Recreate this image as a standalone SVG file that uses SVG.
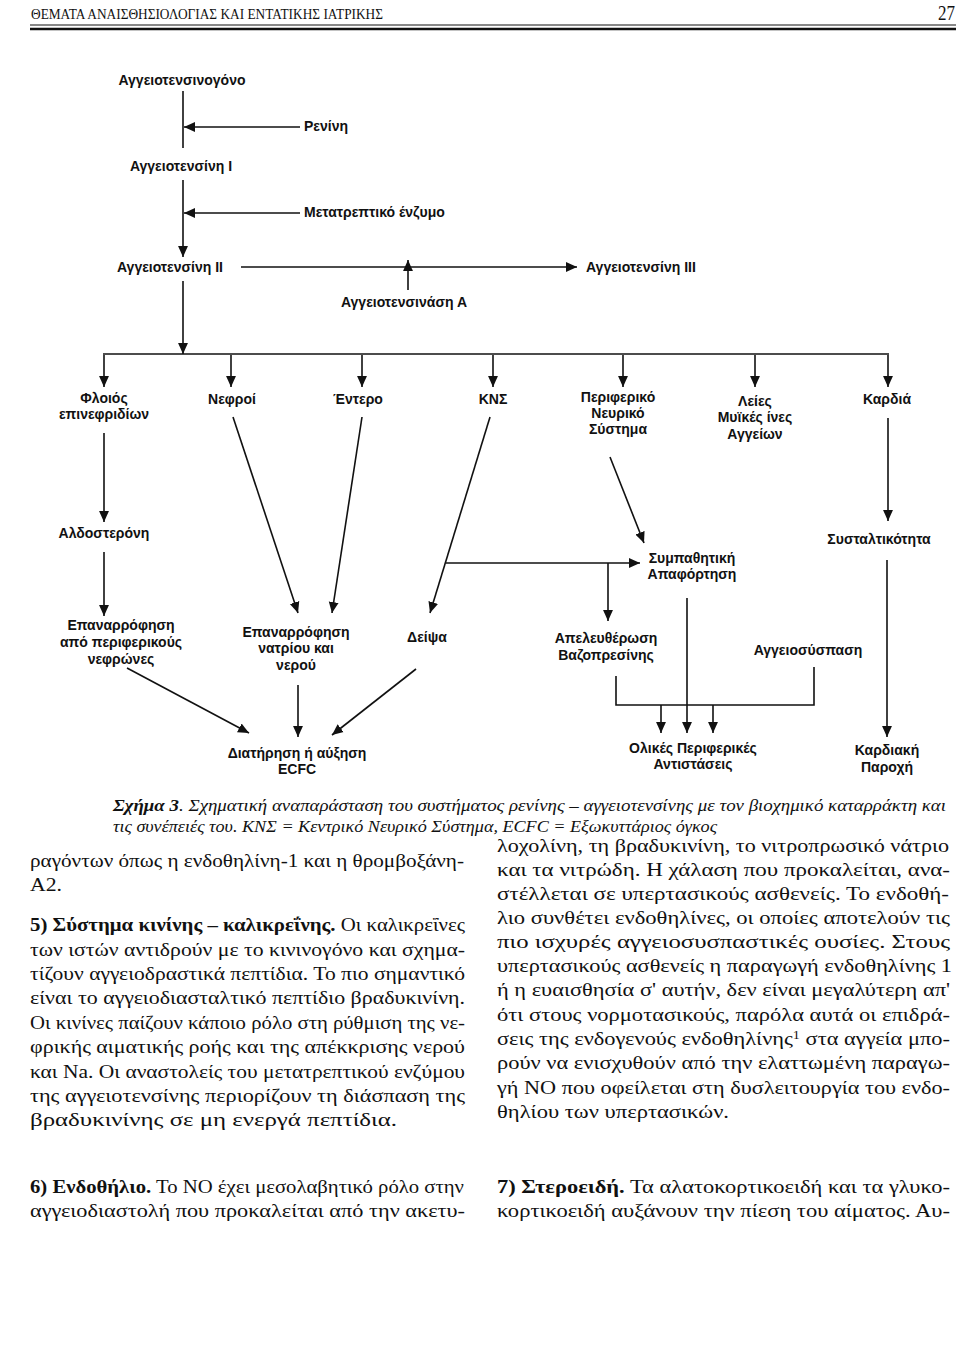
<svg xmlns="http://www.w3.org/2000/svg" width="960" height="1359" viewBox="0 0 960 1359">
<style>
.n{font-family:"Liberation Sans",Arial,sans-serif;font-weight:bold;font-size:14px;fill:#111}
.c{text-anchor:middle}
.hd{font-family:"Liberation Serif","Times New Roman",serif;font-size:15px;fill:#111}
.cap{font-family:"Liberation Serif","Times New Roman",serif;font-style:italic;font-size:16px;fill:#111}
.b{font-family:"Liberation Serif","Times New Roman",serif;font-size:19px;fill:#111}
.bb{font-weight:bold}
.ln{stroke:#111;stroke-width:1.6;fill:none}
</style>
<defs>
<marker id="ah" viewBox="0 0 10 10" refX="10" refY="5" markerWidth="11" markerHeight="11" markerUnits="userSpaceOnUse" orient="auto">
<path d="M0,0.5 L10,5 L0,9.5 z" fill="#111"/>
</marker>
</defs>
<rect width="960" height="1359" fill="#fff"/>

<g id="header">
<text class="hd" x="31" y="19" textLength="352" lengthAdjust="spacingAndGlyphs">ΘΕΜΑΤΑ ΑΝΑΙΣΘΗΣΙΟΛΟΓΙΑΣ ΚΑΙ ΕΝΤΑΤΙΚΗΣ ΙΑΤΡΙΚΗΣ</text>
<text class="hd" x="955" y="20" text-anchor="end" style="font-size:21px" textLength="17" lengthAdjust="spacingAndGlyphs">27</text>
<line x1="30" y1="25" x2="956" y2="25" stroke="#111" stroke-width="1"/>
<line x1="30" y1="29" x2="956" y2="29" stroke="#111" stroke-width="2.6"/>
</g>

<g id="connectors">
<line class="ln" x1="183" y1="91" x2="183" y2="148"/>
<line class="ln" x1="300" y1="127" x2="184" y2="127" marker-end="url(#ah)"/>
<line class="ln" x1="183" y1="180" x2="183" y2="257" marker-end="url(#ah)"/>
<line class="ln" x1="300" y1="213" x2="184" y2="213" marker-end="url(#ah)"/>
<line class="ln" x1="241" y1="267" x2="577" y2="267" marker-end="url(#ah)"/>
<line class="ln" x1="408" y1="290" x2="408" y2="260" marker-end="url(#ah)"/>
<line class="ln" x1="183" y1="281" x2="183" y2="354" marker-end="url(#ah)"/>
<line class="ln" x1="103" y1="354" x2="889" y2="354"/>
<line class="ln" x1="104" y1="355" x2="104" y2="387" marker-end="url(#ah)"/>
<line class="ln" x1="231" y1="355" x2="231" y2="387" marker-end="url(#ah)"/>
<line class="ln" x1="362" y1="355" x2="362" y2="387" marker-end="url(#ah)"/>
<line class="ln" x1="493" y1="355" x2="493" y2="387" marker-end="url(#ah)"/>
<line class="ln" x1="623" y1="355" x2="623" y2="387" marker-end="url(#ah)"/>
<line class="ln" x1="755" y1="355" x2="755" y2="387" marker-end="url(#ah)"/>
<line class="ln" x1="888" y1="355" x2="888" y2="387" marker-end="url(#ah)"/>
<line class="ln" x1="104" y1="433" x2="104" y2="522" marker-end="url(#ah)"/>
<line class="ln" x1="104" y1="552" x2="104" y2="616" marker-end="url(#ah)"/>
<line class="ln" x1="233" y1="417" x2="298" y2="613" marker-end="url(#ah)"/>
<line class="ln" x1="362" y1="417" x2="332" y2="613" marker-end="url(#ah)"/>
<line class="ln" x1="490" y1="417" x2="430" y2="613" marker-end="url(#ah)"/>
<line class="ln" x1="446" y1="563" x2="640" y2="563" marker-end="url(#ah)"/>
<line class="ln" x1="608" y1="563" x2="608" y2="621" marker-end="url(#ah)"/>
<line class="ln" x1="610" y1="457" x2="644" y2="543" marker-end="url(#ah)"/>
<line class="ln" x1="888" y1="418" x2="888" y2="521" marker-end="url(#ah)"/>
<line class="ln" x1="887" y1="560" x2="887" y2="737" marker-end="url(#ah)"/>
<line class="ln" x1="127" y1="668" x2="249" y2="733" marker-end="url(#ah)"/>
<line class="ln" x1="298" y1="685" x2="298" y2="737" marker-end="url(#ah)"/>
<line class="ln" x1="416" y1="669" x2="332" y2="735" marker-end="url(#ah)"/>
<line class="ln" x1="687" y1="598" x2="687" y2="733" marker-end="url(#ah)"/>
<polyline class="ln" points="616,676 616,705 814,705 814,667"/>
<line class="ln" x1="661" y1="705" x2="661" y2="733" marker-end="url(#ah)"/>
<line class="ln" x1="713" y1="705" x2="713" y2="733" marker-end="url(#ah)"/>
</g>

<g id="n-angiotensinogen"><text class="n c" x="182" y="85">Αγγειοτενσινογόνο</text></g>
<g id="n-renin"><text class="n" x="304" y="131">Ρενίνη</text></g>
<g id="n-ang1"><text class="n c" x="181" y="171">Αγγειοτενσίνη Ι</text></g>
<g id="n-ace"><text class="n" x="304" y="217">Μετατρεπτικό ένζυμο</text></g>
<g id="n-ang2"><text class="n" x="117" y="272">Αγγειοτενσίνη ΙΙ</text></g>
<g id="n-ang3"><text class="n" x="586" y="272">Αγγειοτενσίνη ΙΙΙ</text></g>
<g id="n-angiotensinase"><text class="n c" x="404" y="307">Αγγειοτενσινάση Α</text></g>

<g id="n-adrenal"><text class="n c" x="104" y="403">Φλοιός</text><text class="n c" x="104" y="419">επινεφριδίων</text></g>
<g id="n-kidneys"><text class="n c" x="232" y="404">Νεφροί</text></g>
<g id="n-intestine"><text class="n c" x="358" y="404">Έντερο</text></g>
<g id="n-cns"><text class="n c" x="493" y="404">ΚΝΣ</text></g>
<g id="n-pns"><text class="n c" x="618" y="402">Περιφερικό</text><text class="n c" x="618" y="418">Νευρικό</text><text class="n c" x="618" y="434">Σύστημα</text></g>
<g id="n-smooth"><text class="n c" x="755" y="406">Λείες</text><text class="n c" x="755" y="422">Μυϊκές ίνες</text><text class="n c" x="755" y="439">Αγγείων</text></g>
<g id="n-heart"><text class="n c" x="887" y="404">Καρδιά</text></g>

<g id="n-aldosterone"><text class="n c" x="104" y="538">Αλδοστερόνη</text></g>
<g id="n-sympathetic"><text class="n c" x="692" y="563">Συμπαθητική</text><text class="n c" x="692" y="579">Απαφόρτηση</text></g>
<g id="n-contractility"><text class="n c" x="879" y="544">Συσταλτικότητα</text></g>

<g id="n-reabs-peripheral"><text class="n c" x="121" y="630">Επαναρρόφηση</text><text class="n c" x="121" y="647">από περιφερικούς</text><text class="n c" x="121" y="664">νεφρώνες</text></g>
<g id="n-reabs-na"><text class="n c" x="296" y="637">Επαναρρόφηση</text><text class="n c" x="296" y="653">νατρίου και</text><text class="n c" x="296" y="670">νερού</text></g>
<g id="n-thirst"><text class="n c" x="427" y="642">Δείψα</text></g>
<g id="n-vasopressin"><text class="n c" x="606" y="643">Απελευθέρωση</text><text class="n c" x="606" y="660">Βαζοπρεσίνης</text></g>
<g id="n-vasoconstriction"><text class="n c" x="808" y="655">Αγγειοσύσπαση</text></g>

<g id="n-ecfc"><text class="n c" x="297" y="758">Διατήρηση ή αύξηση</text><text class="n c" x="297" y="774">ECFC</text></g>
<g id="n-tpr"><text class="n c" x="693" y="753">Ολικές Περιφερικές</text><text class="n c" x="693" y="769">Αντιστάσεις</text></g>
<g id="n-co"><text class="n c" x="887" y="755">Καρδιακή</text><text class="n c" x="887" y="772">Παροχή</text></g>

<g id="caption">
<text class="cap" x="113" y="811" textLength="833" lengthAdjust="spacingAndGlyphs"><tspan font-weight="bold">Σχήμα 3</tspan>. Σχηματική αναπαράσταση του συστήματος ρενίνης – αγγειοτενσίνης με τον βιοχημικό καταρράκτη και</text>
<text class="cap" x="113" y="832" textLength="604" lengthAdjust="spacingAndGlyphs">τις συνέπειές του. ΚΝΣ = Κεντρικό Νευρικό Σύστημα, ECFC = Εξωκυττάριος όγκος</text>
</g>

<g id="body-left">
<text class="b" x="30" y="867" textLength="434" lengthAdjust="spacingAndGlyphs">ραγόντων όπως η ενδοθηλίνη-1 και η θρομβοξάνη-</text>
<text class="b" x="30" y="891" textLength="32" lengthAdjust="spacingAndGlyphs">Α2.</text>
<text class="b" x="30" y="931" textLength="435" lengthAdjust="spacingAndGlyphs"><tspan class="bb">5) Σύστημα κινίνης – καλικρεΐνης.</tspan> Οι καλικρεΐνες</text>
<text class="b" x="30" y="956" textLength="435" lengthAdjust="spacingAndGlyphs">των ιστών αντιδρούν με το κινινογόνο και σχημα-</text>
<text class="b" x="30" y="980" textLength="435" lengthAdjust="spacingAndGlyphs">τίζουν αγγειοδραστικά πεπτίδια. Το πιο σημαντικό</text>
<text class="b" x="30" y="1004" textLength="435" lengthAdjust="spacingAndGlyphs">είναι το αγγειοδιασταλτικό πεπτίδιο βραδυκινίνη.</text>
<text class="b" x="30" y="1029" textLength="435" lengthAdjust="spacingAndGlyphs">Οι κινίνες παίζουν κάποιο ρόλο στη ρύθμιση της νε-</text>
<text class="b" x="30" y="1053" textLength="435" lengthAdjust="spacingAndGlyphs">φρικής αιματικής ροής και της απέκκρισης νερού</text>
<text class="b" x="30" y="1078" textLength="435" lengthAdjust="spacingAndGlyphs">και Na. Οι αναστολείς του μετατρεπτικού ενζύμου</text>
<text class="b" x="30" y="1102" textLength="435" lengthAdjust="spacingAndGlyphs">της αγγειοτενσίνης περιορίζουν τη διάσπαση της</text>
<text class="b" x="30" y="1126" textLength="367" lengthAdjust="spacingAndGlyphs">βραδυκινίνης σε μη ενεργά πεπτίδια.</text>
<text class="b" x="30" y="1193" textLength="434" lengthAdjust="spacingAndGlyphs"><tspan class="bb">6) Ενδοθήλιο.</tspan> Το ΝΟ έχει μεσολαβητικό ρόλο στην</text>
<text class="b" x="30" y="1217" textLength="435" lengthAdjust="spacingAndGlyphs">αγγειοδιαστολή που προκαλείται από την ακετυ-</text>
</g>

<g id="body-right">
<text class="b" x="497" y="852" textLength="452" lengthAdjust="spacingAndGlyphs">λοχολίνη, τη βραδυκινίνη, το νιτροπρωσικό νάτριο</text>
<text class="b" x="497" y="876" textLength="453" lengthAdjust="spacingAndGlyphs">και τα νιτρώδη. Η χάλαση που προκαλείται, ανα-</text>
<text class="b" x="497" y="900" textLength="452" lengthAdjust="spacingAndGlyphs">στέλλεται σε υπερτασικούς ασθενείς. Το ενδοθή-</text>
<text class="b" x="497" y="924" textLength="453" lengthAdjust="spacingAndGlyphs">λιο συνθέτει ενδοθηλίνες, οι οποίες αποτελούν τις</text>
<text class="b" x="497" y="948" textLength="453" lengthAdjust="spacingAndGlyphs">πιο ισχυρές αγγειοσυσπαστικές ουσίες. Στους</text>
<text class="b" x="497" y="972" textLength="455" lengthAdjust="spacingAndGlyphs">υπερτασικούς ασθενείς η παραγωγή ενδοθηλίνης 1</text>
<text class="b" x="497" y="996" textLength="453" lengthAdjust="spacingAndGlyphs">ή η ευαισθησία σ' αυτήν, δεν είναι μεγαλύτερη απ'</text>
<text class="b" x="497" y="1021" textLength="453" lengthAdjust="spacingAndGlyphs">ότι στους νορμοτασικούς, παρόλα αυτά οι επιδρά-</text>
<text class="b" x="497" y="1045" textLength="453" lengthAdjust="spacingAndGlyphs">σεις της ενδογενούς ενδοθηλίνης<tspan font-size="12" dy="-6">1</tspan><tspan dy="6"> στα αγγεία μπο-</tspan></text>
<text class="b" x="497" y="1069" textLength="453" lengthAdjust="spacingAndGlyphs">ρούν να ενισχυθούν από την ελαττωμένη παραγω-</text>
<text class="b" x="497" y="1094" textLength="453" lengthAdjust="spacingAndGlyphs">γή ΝΟ που οφείλεται στη δυσλειτουργία του ενδο-</text>
<text class="b" x="497" y="1118" textLength="232" lengthAdjust="spacingAndGlyphs">θηλίου των υπερτασικών.</text>
<text class="b" x="497" y="1193" textLength="453" lengthAdjust="spacingAndGlyphs"><tspan class="bb">7) Στεροειδή.</tspan> Τα αλατοκορτικοειδή και τα γλυκο-</text>
<text class="b" x="497" y="1217" textLength="453" lengthAdjust="spacingAndGlyphs">κορτικοειδή αυξάνουν την πίεση του αίματος. Αυ-</text>
</g>
</svg>
